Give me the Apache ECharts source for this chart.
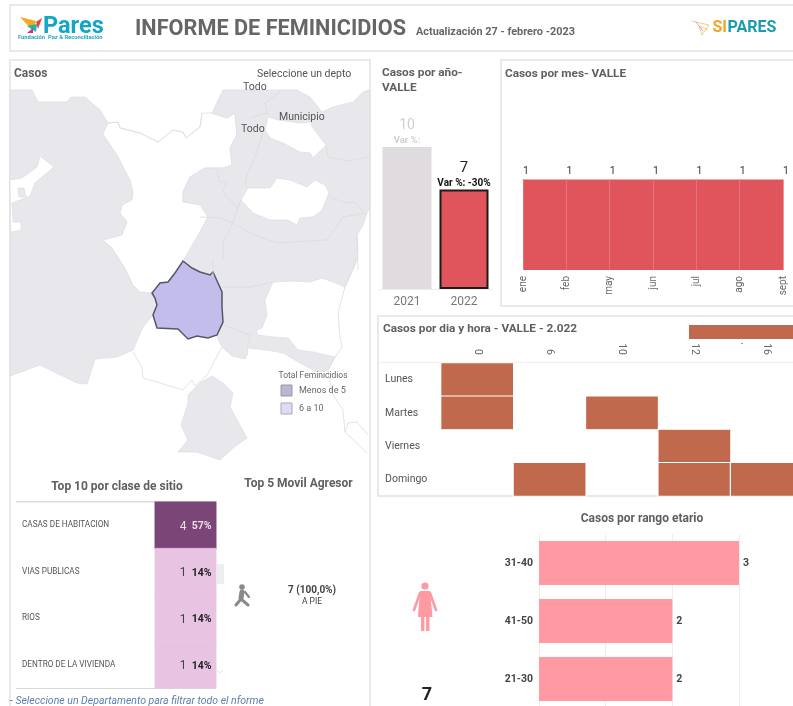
<!DOCTYPE html>
<html><head><meta charset="utf-8">
<style>html,body{margin:0;padding:0;background:#fff}#c{width:793px;height:706px}</style>
<script src="https://cdn.jsdelivr.net/npm/echarts@6/dist/echarts.min.js"></script>
</head><body><div id="c"></div>
<script>
// ---------- data ----------
const yearCats = ['2021','2022'];
const yearValues = [10,7];
const yearVar = ['', '-30%'];
const monthCats = ['ene','feb','may','jun','jul','ago','sept'];
const monthValues = [1,1,1,1,1,1,1];
const hourCats = ['0','6','10','12','16'];
const dayCats = ['Lunes','Martes','Viernes','Domingo'];
const hourDayCells = [['0','Lunes',1],['0','Martes',1],['10','Martes',1],['12','Viernes',1],['6','Domingo',1],['12','Domingo',1],['16','Domingo',1]];
const siteCats = ['CASAS DE HABITACION','VIAS PUBLICAS','RIOS','DENTRO DE LA VIVIENDA'];
const siteValues = [4,1,1,1];
const sitePct = ['57%','14%','14%','14%'];
const ageCats = ['31-40','41-50','21-30'];
const ageValues = [3,2,2];

// map outlines
const westRegion = [[10,90],[32,90],[38,102],[67,102],[71,97],[85,97],[100,110],[108,123],[103,134],[117,155],[130,180],[133,193],[132,200],[122,205],[120,213],[127,222],[122,235],[103,240],[112,248],[125,268],[133,285],[140,292],[152,293],[157,305],[153,315],[143,327],[133,350],[117,357],[95,359],[87,384],[77,383],[40,365],[10,376],[10,90]];
const westInlet = [[10,180],[22,178],[37,167],[40,156],[54,167],[48,172],[35,183],[30,196],[12,203],[13,222],[21,222],[21,230],[12,232],[11,245],[10,245],[10,180]];
const westIslet = [[18,188],[24,188],[26,197],[19,197],[18,188]];
const centralRegion = [[108,123],[118,122],[120,128],[140,133],[158,142],[173,130],[183,132],[186,138],[200,127],[202,113],[212,113],[227,118],[235,113],[237,135],[230,148],[232,165],[223,168],[205,168],[190,177],[183,192],[183,202],[202,203],[208,217],[200,232],[185,260],[183,261],[175,273],[168,282],[160,283],[152,293],[140,292],[133,285],[125,268],[112,248],[103,240],[122,235],[127,222],[120,213],[122,205],[132,200],[133,193],[130,180],[117,155],[103,134],[108,123]];
const eastMass = [[223,90],[297,90],[310,97],[322,112],[333,107],[353,102],[363,92],[370,90],[370,208],[367,213],[363,225],[357,235],[358,250],[355,265],[345,287],[333,282],[322,278],[310,282],[293,281],[273,282],[265,300],[267,315],[262,328],[257,330],[257,335],[273,337],[288,338],[298,350],[313,352],[335,357],[328,370],[317,372],[300,363],[283,353],[267,350],[247,348],[248,353],[245,359],[232,356],[222,347],[217,337],[223,322],[222,292],[218,283],[213,272],[210,275],[200,272],[192,268],[183,261],[200,232],[208,217],[200,205],[183,202],[183,192],[190,177],[205,168],[223,168],[232,165],[230,148],[237,135],[235,113],[227,118],[212,113],[223,90]];
const northHole = [[268,117],[278,120],[300,123],[310,122],[313,128],[326,145],[313,158],[310,153],[300,152],[283,143],[270,138],[265,130],[268,117]];
const middleHole = [[248,188],[270,188],[277,178],[290,180],[307,187],[315,180],[325,185],[329,193],[322,210],[313,217],[300,218],[297,225],[288,220],[270,220],[253,213],[241,200],[248,188]];
const southRegion = [[212,376],[223,383],[233,393],[230,407],[247,438],[233,448],[220,460],[197,452],[178,452],[188,440],[181,425],[188,403],[188,395],[200,383],[212,376]];
const valleRegion = [[183,261],[192,268],[200,272],[210,275],[213,272],[218,283],[222,292],[222,307],[223,322],[217,335],[208,338],[197,336],[188,339],[178,329],[157,328],[153,315],[157,305],[155,298],[152,293],[160,283],[168,282],[175,273],[183,261]];
const mapFrame = [[10,90],[370,90],[370,480],[10,480],[10,90]];
const borderLines = [
 [[108,123],[118,122],[120,128],[140,133],[158,142],[173,130],[183,132],[186,138],[200,127],[202,113]],
 [[280,92],[265,103],[268,115]],[[250,118],[267,113]],
 [[263,133],[255,157],[247,175],[245,185],[248,188]],
 [[217,170],[220,182],[227,182],[223,192],[237,208],[241,200]],
 [[240,202],[232,225],[223,242],[223,260]],
 [[200,217],[220,218],[233,223],[250,233],[277,243],[327,240],[343,217],[367,213]],
 [[326,145],[328,157],[348,161],[370,157]],
 [[329,197],[347,203],[355,202],[363,212]],
 [[213,260],[213,277]],[[223,287],[250,287],[272,282]],
 [[223,325],[250,335],[247,348]],
 [[358,257],[345,287],[338,313],[340,337],[342,347],[335,357],[328,370],[332,393],[343,410],[345,432],[367,453]],
 [[345,432],[348,423],[357,422],[368,435]],
 [[133,352],[142,367],[143,378],[160,383],[183,390],[192,380],[195,386],[207,375],[222,347]],
 [[357,235],[358,270]]
];
const valleCases = 7;
const mapRegions = [
 ['Frame',mapFrame,'none'],['Oeste',westRegion,'#e8e8ec'],['Ensenada',westInlet,'#ffffff'],['Isleta',westIslet,'#e8e8ec'],
 ['Centro',centralRegion,'#ffffff'],['Este',eastMass,'#e8e8ec'],['Norte',northHole,'#ffffff'],['Medio',middleHole,'#ffffff'],
 ['Sur',southRegion,'#e8e8ec'],['Valle',valleRegion,'#c3bdec']
];

echarts.registerMap('colombia',{type:'FeatureCollection',features:mapRegions.map(r=>({type:'Feature',properties:{name:r[0]},geometry:{type:'Polygon',coordinates:[r[1]]}}))});

const FF='Roboto, sans-serif';
const T=(text,x,y,font,fill,align)=>({type:'text',x,y:y+1,z:20,silent:true,style:{text,font:font+' '+FF,fill,align:align||'left',verticalAlign:'middle'}});
const R=(x,y,w,h,fill,stroke,lw)=>({type:'rect',z:0,silent:true,shape:{x,y,width:w,height:h},style:{fill:fill||'none',stroke:stroke||'none',lineWidth:lw||1}});
const P=(pts,fill)=>({type:'polygon',z:20,silent:true,shape:{points:pts},style:{fill}});
const L=(pts,stroke,lw)=>({type:'polyline',z:20,silent:true,shape:{points:pts},style:{fill:'none',stroke,lineWidth:lw,lineCap:'round',lineJoin:'round'}});
const C=(x,y,r,fill)=>({type:'circle',z:20,silent:true,shape:{cx:x,cy:y,r},style:{fill}});

const frame='#e2e2e2', titleC='#5f5f5f', pink='#ff9aa2', brick='#c0694d', red='#e0555c';

const graphics=[
 R(10,5,790,46,'none',frame,1.5),
 R(10,60,360,660,'none',frame,1.5),
 R(501,60,300,246,'none',frame,1.5),
 R(378,316,420,180,'none',frame,1.5),
 R(379,362,420,0.5,'#dddddd'),
 R(741,343,2,1,'#999999'),
 // logos
 P([[20,17],[36,21],[33,31]],'#f6a821'),P([[36,22],[42,18],[38,29]],'#e8413a'),P([[27,26],[37,24],[36,32]],'#1fb6a8'),P([[27,33],[33,28],[33,33]],'#d8288f'),
 T('Pares',43,26,'bold 23.5px','#14a6c6'),
 T('Fundación  Paz & Reconciliación',18,37,'bold 5.8px','#2aa4bd'),
 T('INFORME DE FEMINICIDIOS',135,28.5,'bold 21.7px','#666666'),
 T('Actualización 27 - febrero -2023',416,31,'bold 10.9px','#666666'),
 L([[692,21],[709,25],[702,35],[699,26],[708,30]],'#e6d28a',1),L([[696,22],[703,31]],'#e79ac0',1),
 T('SI',712.5,26.5,'bold 16px','#f4a422'),
 T('PARES',727.5,26.5,'bold 16px','#1a9bb0'),
 // map panel texts
 T('Casos',14,73,'bold 12px',titleC),
 T('Seleccione un depto',257,73,'10.5px','#555555'),
 T('Todo',243,86,'10.5px','#555555'),
 T('Municipio',279,116,'10.5px','#555555'),
 T('Todo',241,128,'10.5px','#555555'),
 T('Total Feminicidios',278.5,375,'8.5px','#666666'),
 {type:'rect',z:20,silent:true,shape:{x:281,y:385,width:11,height:11},style:{fill:'#bdb6d2',stroke:'#9a97a8',lineWidth:1}},
 T('Menos de 5',299,390,'9px','#666666'),
 {type:'rect',z:20,silent:true,shape:{x:281,y:403,width:11,height:11},style:{fill:'#dedcf4',stroke:'#a8a7b8',lineWidth:1}},
 T('6 a 10',299,408,'9px','#666666'),
 // year / month / heat titles
 T('Casos por año-',382,72.5,'bold 11.8px',titleC),
 T('VALLE',382,87.5,'bold 11.8px',titleC),
 T('Casos por mes- VALLE',505,73,'bold 11.8px',titleC),
 T('Casos por dia y hora - VALLE - 2.022',383,328.5,'bold 11.8px',titleC),
 {type:'rect',z:20,silent:true,shape:{x:689,y:325,width:110,height:14},style:{fill:brick}},
 // top 10 / movil
 T('Top 10 por clase de sitio',117,485.5,'bold 12px',titleC,'center'),
 T('Top 5 Movil Agresor',298.5,482.5,'bold 12px',titleC,'center'),
 R(16,501.5,200,0.8,'#bbbbbb'),R(16,688,200,0.8,'#cccccc'),
 R(217,564,7,20,'#eeeef0'),
 L([[217,670],[220,673],[223,670]],'#e4e4e6',1),
 C(242,587,2.8,'#8a8a8a'),L([[242,592],[241,598]],'#8a8a8a',5),L([[241,599],[236,605]],'#8a8a8a',3),L([[241,599],[248,605]],'#8a8a8a',3),L([[245,592],[249,597]],'#8a8a8a',2.2),
 T('7 (100,0%)',312,589.5,'bold 10px','#444444','center'),
 T('A PIE',312,600.5,'8.5px','#444444','center'),
 T('- Seleccione un Departamento para filtrar todo el nforme',10,700.5,'italic 10.5px','#5b7fae'),
 // age
 T('Casos por rango etario',642,517.5,'bold 12px',titleC,'center'),
 C(425,586,3.6,pink),L([[420,593],[414,610]],pink,2.6),L([[430,593],[436,610]],pink,2.6),
 P([[420,591],[430,591],[432.5,617],[418,617]],pink),
 {type:'rect',z:20,silent:true,shape:{x:421,y:617,width:3.4,height:14},style:{fill:pink}},
 {type:'rect',z:20,silent:true,shape:{x:426,y:617,width:3.4,height:14},style:{fill:pink}},
 T(String(valleCases),427,694,'bold 18px','#222222','center'),
];

const option={
 animation:false,backgroundColor:'#fff',textStyle:{fontFamily:FF},
 graphic:{elements:graphics},
 geo:{map:'colombia',projection:{project:p=>p,unproject:p=>p},boundingCoords:[[10,90],[370,480]],left:10,top:90,width:360,height:390,silent:true,roam:false,label:{show:false},
  itemStyle:{areaColor:'#e8e8ec',borderColor:'#dcdce2',borderWidth:0.7},
  regions:[...mapRegions.map(r=>({name:r[0],itemStyle:r[2]==='none'?{areaColor:'none',borderColor:'none',borderWidth:0}:{areaColor:r[2]}})),
   {name:'Valle',itemStyle:{areaColor:'#c3bdec',borderColor:'#56566a',borderWidth:1.5}}]},
 visualMap:[{show:false,seriesIndex:3,min:0,max:1,inRange:{color:[brick,brick]}}],
 grid:[
  {left:378.5,top:147,width:114,height:142,outerBoundsMode:'none'},
  {left:523,top:180,width:260,height:90,outerBoundsMode:'none'},
  {left:441,top:363,width:362,height:133,outerBoundsMode:'none'},
  {left:155,top:502,width:61,height:186,outerBoundsMode:'none'},
  {left:539,top:534,width:300,height:174,outerBoundsMode:'none'}
 ],
 xAxis:[
  {gridIndex:0,type:'category',data:yearCats,axisTick:{show:false},axisLine:{lineStyle:{color:'#eeeeee'}},axisLabel:{color:'#777777',fontSize:12,margin:7}},
  {gridIndex:1,type:'category',data:monthCats,boundaryGap:false,z:5,axisTick:{show:false},axisLine:{show:false},splitLine:{show:true,lineStyle:{color:'#e97a80',width:0.8}},axisLabel:{color:'#666666',fontSize:10,rotate:90,margin:6,interval:0}},
  {gridIndex:2,type:'category',data:hourCats,position:'top',axisTick:{show:false},axisLine:{show:false},axisLabel:{color:'#666666',fontSize:10.5,rotate:90,margin:8,interval:0}},
  {gridIndex:3,type:'category',data:['Total'],show:false},
  {gridIndex:4,type:'value',min:0,max:4.5,interval:1,axisLabel:{show:false},axisLine:{show:false},axisTick:{show:false},splitLine:{lineStyle:{color:'#eeeeef'}}}
 ],
 yAxis:[
  {gridIndex:0,type:'value',min:0,max:10,show:false},
  {gridIndex:1,type:'value',min:0,max:1,show:false},
  {gridIndex:2,type:'category',data:dayCats,inverse:true,axisTick:{show:false},axisLine:{show:false},axisLabel:{color:'#555555',fontSize:10.5,align:'left',margin:56,padding:[3,0,0,0]}},
  {gridIndex:3,type:'category',data:siteCats,inverse:true,axisTick:{show:false},axisLine:{show:false},axisLabel:{color:'#555555',fontSize:8.2,align:'left',margin:133,interval:0,padding:[3,0,0,0]}},
  {gridIndex:4,type:'category',data:ageCats,inverse:true,axisTick:{show:false},axisLine:{show:false},axisLabel:{color:'#444444',fontSize:10.5,fontWeight:'bold',margin:6,padding:[1,0,0,0]}}
 ],
 series:[
  {type:'lines',coordinateSystem:'geo',polyline:true,silent:true,zlevel:0,z:3,data:borderLines.map(c=>({coords:c})),lineStyle:{color:'#dcdce0',width:0.8,opacity:1}},
  {type:'bar',xAxisIndex:0,yAxisIndex:0,barWidth:49,
   data:yearValues.map((v,i)=>({value:v,itemStyle:i===1?{color:red,borderColor:'#1c1c1c',borderWidth:2}:{color:'#e0dbde'}})),
   label:{show:true,position:'top',distance:0,lineHeight:14,align:'center',
    formatter:p=>p.dataIndex===1?`{a|${p.value}}\n{b|Var %: ${yearVar[1]}}`:`{c|${p.value}}\n{d|Var %:${yearVar[0]}}`,
    rich:{a:{fontSize:15,color:'#222',lineHeight:17,align:'center'},b:{fontSize:10,fontWeight:'bold',color:'#111',lineHeight:13,align:'center'},c:{fontSize:14,color:'#cfcfcf',lineHeight:17,align:'center'},d:{fontSize:9.5,fontWeight:'bold',color:'#cfcfcf',lineHeight:13,align:'center'}}}},
  {type:'line',xAxisIndex:1,yAxisIndex:1,data:monthValues,clip:false,symbol:'circle',symbolSize:1,itemStyle:{color:red},lineStyle:{color:red,width:1},areaStyle:{color:red,opacity:1},
   label:{show:true,position:'top',distance:3,color:'#333333',fontSize:10.5,offset:[3,0]}},
  {type:'heatmap',xAxisIndex:2,yAxisIndex:2,data:hourDayCells,itemStyle:{color:brick,borderColor:'#ffffff',borderWidth:1.2},label:{show:false}},
  {type:'heatmap',xAxisIndex:3,yAxisIndex:3,
   data:siteValues.map((v,i)=>({value:['Total',siteCats[i],v],itemStyle:{color:i===0?'#7b4677':'#e8c4e2',borderColor:i===0?'#7b4677':'#e2d2e0',borderWidth:0.4}})),
   label:{show:true,position:'insideRight',distance:5,offset:[0,1.5],formatter:p=>{const i=p.dataIndex;return i===0?`{v0|${p.value[2]}}{p0|${sitePct[i]}}`:`{v|${p.value[2]}}{p|${sitePct[i]}}`;},
    rich:{v0:{fontSize:12,color:'#e6dbe5',width:12,align:'left'},p0:{fontSize:10.5,fontWeight:'bold',color:'#ecdcec'},v:{fontSize:12,color:'#444',width:12,align:'left'},p:{fontSize:10.5,fontWeight:'bold',color:'#222'}}}},
  {type:'bar',xAxisIndex:4,yAxisIndex:4,data:ageValues,barWidth:44,itemStyle:{color:pink},label:{show:true,position:'right',distance:4,color:'#444444',fontSize:10.5,fontWeight:'bold'}}
 ]
};
const chart=echarts.init(document.getElementById('c'),null,{renderer:'canvas'});
chart.setOption(option);
</script></body></html>
